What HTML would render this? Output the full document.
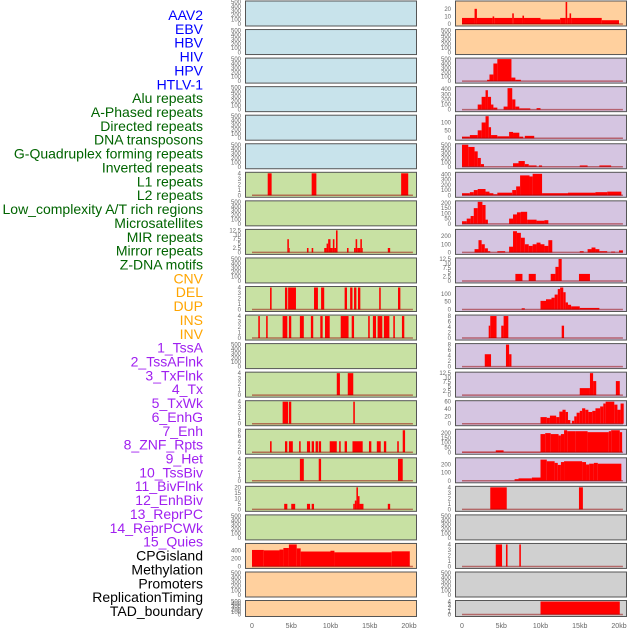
<!DOCTYPE html>
<html><head><meta charset="utf-8"><style>
html,body{margin:0;padding:0;background:#fff;}
svg{display:block;font-family:"Liberation Sans",sans-serif;}
</style></head><body>
<svg id="c" width="630" height="630"></svg>
<script>
const labelNames=["AAV2","EBV","HBV","HIV","HPV","HTLV-1","Alu repeats","A-Phased repeats","Directed repeats","DNA transposons","G-Quadruplex forming repeats","Inverted repeats","L1 repeats","L2 repeats","Low_complexity A/T rich regions","Microsatellites","MIR repeats","Mirror repeats","Z-DNA motifs","CNV","DEL","DUP","INS","INV","1_TssA","2_TssAFlnk","3_TxFlnk","4_Tx","5_TxWk","6_EnhG","7_Enh","8_ZNF_Rpts","9_Het","10_TssBiv","11_BivFlnk","12_EnhBiv","13_ReprPC","14_ReprPCWk","15_Quies","CPGisland","Methylation","Promoters","ReplicationTiming","TAD_boundary"];
const labelColors=["#0000ff","#0000ff","#0000ff","#0000ff","#0000ff","#0000ff","#006400","#006400","#006400","#006400","#006400","#006400","#006400","#006400","#006400","#006400","#006400","#006400","#006400","#ffa500","#ffa500","#ffa500","#ffa500","#ffa500","#a020f0","#a020f0","#a020f0","#a020f0","#a020f0","#a020f0","#a020f0","#a020f0","#a020f0","#a020f0","#a020f0","#a020f0","#a020f0","#a020f0","#a020f0","#000","#000","#000","#000","#000"];
const xTicks=[0,5,10,15,20];
const xTickLabels=["0","5kb","10kb","15kb","20kb"];
const E=[0,100,200,300,400,500];
const T4=[0,1,2,3,4];
const T12=[0,2.5,5,7.5,10,12.5];
const leftTracks=[
["#c8e3eb",500,E,[]],["#c8e3eb",500,E,[]],["#c8e3eb",500,E,[]],["#c8e3eb",500,E,[]],["#c8e3eb",500,E,[]],["#c8e3eb",500,E,[]],
["#c8e1a3",4,T4,[[2,2.5,4],[7.6,8.2,4],[19,19.9,4]]],
["#c8e1a3",500,E,[]],
["#c8e1a3",12.5,T12,[[4.5,4.7,7.5],[4.7,4.8,2.5],[7,7.2,2.5],[7.6,7.8,2.5],[9.2,9.5,2.5],[9.5,9.7,5],[9.7,10,7.5],[10,10.3,2.5],[10.3,10.5,7.5],[10.5,10.7,2.5],[10.7,10.9,12.5],[12.1,12.3,2.5],[13,13.2,2.5],[13.2,13.4,7.5],[13.4,13.8,2.5],[13.8,14,7.5],[14,14.1,2.5],[17.3,17.6,2.5]]],
["#c8e1a3",500,E,[]],
["#c8e1a3",4,T4,[[2.3,2.5,4],[4.2,4.5,4],[4.6,5.6,4],[7.9,8.4,4],[8.8,9.2,4],[11.8,12.1,4],[12.5,12.8,4],[13,13.3,4],[13.5,13.8,4],[16.2,16.4,4],[18.6,18.9,4]]],
["#c8e1a3",4,T4,[[0.8,1,4],[1.8,2,4],[3.9,4.5,4],[4.7,5,4],[6.1,6.6,4],[7.5,7.8,4],[8.7,9,4],[9.3,9.9,4],[11.3,12.3,4],[12.7,13,4],[14.8,15,4],[15.4,15.8,4],[16,16.6,4],[16.8,17.5,4],[18,18.2,4],[19.1,19.4,4]]],
["#c8e1a3",500,E,[]],
["#c8e1a3",4,T4,[[10.8,11.2,4],[12.2,12.9,4]]],
["#c8e1a3",4,T4,[[3.9,4.6,4],[4.7,5,4],[12.9,13.1,4]]],
["#c8e1a3",8,[0,2,4,6,8],[[2.3,2.5,4],[4.2,4.5,4],[4.7,5.2,4],[6,6.2,4],[7,7.4,4],[7.6,7.9,4],[8.1,8.4,4],[8.5,8.8,4],[9.9,10.8,4],[11.1,11.3,4],[11.8,12.1,4],[12.8,14.1,4],[14.9,15.2,4],[15.9,16.4,4],[16.8,17.1,4],[18.5,18.7,4],[19.2,19.5,8]]],
["#c8e1a3",4,T4,[[6.1,6.6,4],[8.5,8.8,4],[18.6,19.2,4]]],
["#c8e1a3",20,[0,5,10,15,20],[[4.1,4.5,5],[5,5.5,5],[7,7.4,5],[7.6,7.9,5],[12.9,13.1,5],[13.1,13.3,8],[13.3,13.5,20],[13.5,13.7,12],[13.7,14.2,5],[17.3,17.6,5]]],
["#c8e1a3",500,E,[]],
["#ffd09e",560,[0,200,400],[[0,1.5,420],[1.5,3.5,410],[3.5,4,430],[4,4.7,470],[4.7,5.7,560],[5.7,6.2,460],[6.2,10,380],[10,10.5,400],[10.5,17.8,360],[17.8,20.1,385]]],
["#ffd09e",500,E,[]],
["#ffd09e",500,E,[]]
];
const rightTracks=[
["#ffd09e",29,[0,10,20],[[0,1.6,8],[1.6,1.9,20],[1.9,3.9,8],[3.9,4.1,10],[4.1,6.4,8],[6.4,6.6,14],[6.6,7.7,8],[7.7,7.9,11],[7.9,10,8],[10,12.5,6],[12.5,13.2,8],[13.2,13.4,29],[13.4,13.7,8],[13.7,13.9,14],[13.9,17.8,8],[17.8,20,5]]],
["#ffd09e",500,E,[]],
["#d5c5e1",500,E,[[3.2,3.5,30],[3.5,4,150],[4,4.5,400],[4.5,6.3,500],[6.3,6.8,80],[6.8,7.5,30]]],
["#d5c5e1",430,[0,100,200,300,400],[[2,2.5,100],[2.5,3,250],[3,3.3,380],[3.3,3.7,250],[3.7,4,100],[4,4.5,40],[5.3,5.8,60],[5.8,6.4,420],[6.4,6.8,200],[6.8,7.3,60],[7.3,8.7,25],[9.5,10,30]]],
["#d5c5e1",140,[0,50,100],[[0,1,10],[1,2,20],[2,2.5,50],[2.5,3,100],[3,3.4,140],[3.4,3.7,70],[3.7,4.5,20],[4.5,6,12],[6,6.5,40],[6.5,7.3,35],[7.3,7.8,10],[8,9.2,15]]],
["#d5c5e1",500,E,[[0,0.8,500],[0.8,1.6,450],[1.6,2,350],[2,2.4,200],[2.4,2.8,60],[6.5,7.2,80],[7.2,8,130],[8,8.5,60],[8.5,9.5,30],[9.8,10.2,30],[15,16,30],[17.5,19,30]]],
["#d5c5e1",420,[0,100,200,300,400],[[0,1,40],[1,1.5,60],[1.5,2,100],[2,3,120],[3,3.5,70],[3.5,4,40],[4,4.5,20],[4.5,6.4,50],[6.4,6.9,100],[6.9,7.4,170],[7.4,8.6,380],[8.6,9,360],[9,10.2,410],[10.2,13.5,40],[13.5,17,50],[17,18.5,60],[18.5,20.3,70]]],
["#d5c5e1",210,[0,50,100,150,200],[[0,0.6,25],[0.6,1.1,50],[1.1,1.5,75],[1.5,2,150],[2,2.6,210],[2.6,3,180],[3,3.3,40],[6,6.5,50],[6.5,7,90],[7,7.5,110],[7.5,8.3,115],[8.3,9.5,40],[9.5,10.5,30],[10.5,11,35]]],
["#d5c5e1",270,[0,100,200],[[1.6,2.1,40],[2.1,2.5,150],[2.5,2.9,100],[2.9,3.3,50],[3.3,3.6,15],[4.5,5.5,15],[6,6.5,70],[6.5,7,260],[7,7.5,240],[7.5,8,180],[8,8.5,100],[8.5,9,80],[9,9.5,100],[9.5,10,120],[10,10.5,100],[10.5,11,80],[11,11.5,150],[15,15.5,15],[16,16.5,40],[16.5,17,60],[17,17.5,40],[17.5,18.5,15],[19,19.5,10],[20,20.5,25]]],
["#d5c5e1",12.5,T12,[[6.8,7.7,4],[8.5,9.4,4],[11.3,11.9,4],[11.9,12.3,8],[12.3,12.7,12.5],[14.9,16.3,4]]],
["#d5c5e1",140,[0,50,100],[[7.6,8,8],[10,10.7,55],[10.7,11.4,65],[11.4,11.8,75],[11.8,12.2,95],[12.2,12.5,130],[12.5,12.9,140],[12.9,13.2,110],[13.2,13.5,45],[13.5,13.9,30],[13.9,15,20],[15,17.5,10]]],
["#d5c5e1",8,[0,2,4,6,8],[[3.4,3.6,4.5],[3.6,4.4,8],[5,5.3,4.5],[5.3,5.9,8],[12.7,13,4.5]]],
["#d5c5e1",8,[0,2,4,6,8],[[2.9,3.7,4.5],[5.6,6,8],[6,6.3,4.5]]],
["#d5c5e1",12.5,T12,[[15,16.3,4],[16.3,16.7,12.5],[16.7,17.1,8],[19.6,20.1,8]]],
["#d5c5e1",60,[0,20,40,60],[[10,10.8,18],[10.8,11.2,16],[11.2,12,22],[12,12.4,18],[12.4,12.8,33],[12.8,13.2,38],[13.2,13.5,32],[13.5,13.8,10],[14,14.3,8],[14.3,14.6,20],[14.6,15,30],[15,15.3,35],[15.3,15.7,42],[15.7,16.1,38],[16.1,16.6,32],[16.6,17,35],[17,17.6,42],[17.6,18,47],[18,18.3,55],[18.3,19.4,60],[19.4,19.8,52],[19.8,20.2,38],[20.2,20.6,55]]],
["#d5c5e1",230,[0,50,100,150,200],[[0,4.3,5],[4.3,5.3,20],[5.3,10,5],[10,10.6,190],[10.6,11.3,200],[11.3,12.3,190],[12.3,12.6,175],[12.6,13,190],[13,13.4,230],[13.4,14.5,220],[14.5,16,220],[16,18.7,210],[18.7,19,220],[19,20.1,230],[20.1,20.4,210]]],
["#d5c5e1",270,[0,100,200],[[6.7,7.2,20],[7.2,8.9,30],[8.9,10,40],[10,10.8,260],[10.8,11.8,240],[11.8,12.2,220],[12.2,12.6,195],[12.6,13,230],[13,15.3,240],[15.3,15.8,230],[15.8,16.2,200],[16.2,16.8,210],[16.8,17.3,220],[17.3,20.3,210]]],
["#d0d0d0",4,T4,[[3.6,5.7,4],[14.9,15.4,4]]],
["#d0d0d0",500,E,[]],
["#d0d0d0",4,T4,[[4.3,5.1,4],[5.6,5.8,4],[7.3,7.5,4]]],
["#d0d0d0",500,E,[]],
["#d0d0d0",4,T4,[[10,20.1,4]]]
];
const svg=document.getElementById('c');
const NS='http://www.w3.org/2000/svg';
function mk(tag,at,parent){const e=document.createElementNS(NS,tag);for(const k in at)e.setAttribute(k,at[k]);(parent||svg).appendChild(e);return e;}
labelNames.forEach((n,i)=>{
  const t=mk('text',{x:203,y:20+i*13.86,'text-anchor':'end','font-size':14,fill:labelColors[i]});
  
  
  t.textContent=n;
});
const KB=7.85;
function rowGeom(i){ if(i===21) return [600,16]; return [0.5+i*28.55,25]; }
function drawCol(tracks,px,x0,colName){
  tracks.forEach((tr,i)=>{
    const [bg,ymax,ticks,segs]=tr;
    const [top,h]=rowGeom(i);
    const g=mk('g',{});
    
    
    const r=mk('rect',{x:px+0.5,y:top+0.5,width:171,height:h,fill:bg,stroke:'#555','stroke-width':1},g);
    
    
    const bot=top+h-1.5, ti=top+1.5;
    const ys=v=>bot-v/ymax*(bot-ti);
    const xs=k=>x0+k*KB;
    ticks.forEach(tv=>{
      const t=mk('text',{x:px-4,y:ys(tv)+2,'text-anchor':'end','font-size':6,fill:'#666'},g);
      
      
      t.textContent=String(tv);
    });
    if(segs.length){
      segs.forEach(s=>{
        const b=mk('rect',{x:xs(s[0]),y:ys(s[2]),width:Math.max(0.8,xs(s[1])-xs(s[0])),height:bot-ys(s[2]),fill:'#ff0000'},g);
        
        
      });
      const bl=mk('line',{x1:xs(0),x2:xs(20.5),y1:bot,y2:bot,stroke:'rgba(150,0,0,0.5)','stroke-width':1.5},g);
      
      
    }
  });
  xTicks.forEach((k,i)=>{
    const t=mk('text',{x:x0+k*KB,y:628,'text-anchor':'middle','font-size':7,fill:'#666'});
    
    
    t.textContent=xTickLabels[i];
  });
}
drawCol(leftTracks,245,252,'left');
drawCol(rightTracks,455,462,'right');
</script>
</body></html>
